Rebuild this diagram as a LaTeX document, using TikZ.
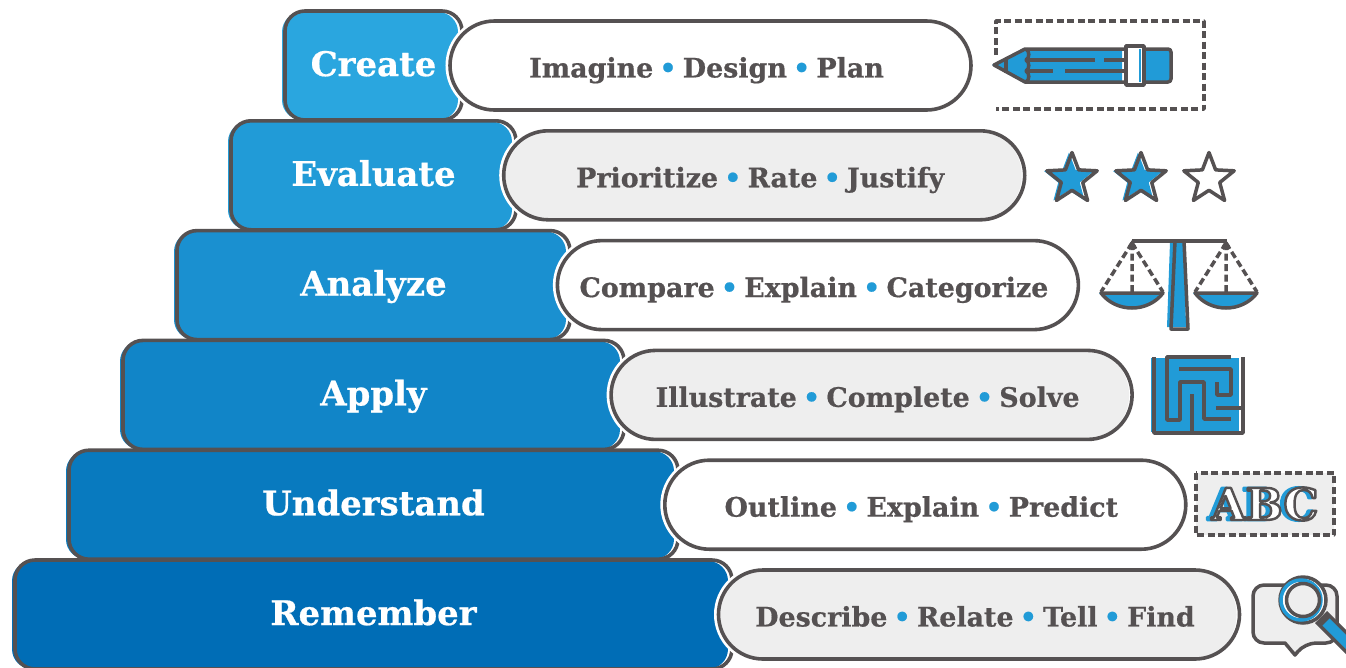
\documentclass[tikz,border=0pt]{standalone}
\usepackage{fontspec}
\usetikzlibrary{shapes.misc,shapes.geometric}
\setmainfont{DejaVu Serif}[BoldFeatures={FakeBold=0.6}]
\newfontfamily\abcfont{DejaVu Serif}
\definecolor{linegray}{HTML}{555152}
\definecolor{paleg}{HTML}{EEEEEE}
\definecolor{iconblue}{HTML}{219BD7}
\definecolor{col0}{HTML}{2AA6DF}
\definecolor{col1}{HTML}{219BD7}
\definecolor{col2}{HTML}{1A90D0}
\definecolor{col3}{HTML}{1185C8}
\definecolor{col4}{HTML}{087ABF}
\definecolor{col5}{HTML}{006DB6}
\def\px{0.02cm}
\newcommand{\dotsep}{\hspace{0.23em}\textcolor{iconblue}{•}\hspace{0.23em}}
\newcommand{\strokedtext}[4]{\special{pdf:code q 1 j 2 Tr #2 w #1 RG #3 rg}#4\special{pdf:code Q}}
\tikzset{
  blockbox/.style={rectangle,draw=linegray,line width=3.6*\px,rounded corners=20*\px,
    outer sep=0pt,inner sep=0pt,text=white,font=\fontsize{19.3}{24}\selectfont\bfseries,
    text height=19pt,text depth=7pt},
  pillbox/.style={rounded rectangle,draw=linegray,line width=3.6*\px,fill=white,
    outer sep=0pt,inner sep=0pt,text=linegray,font=\fontsize{15.3}{18}\selectfont\bfseries,
    text height=18pt,text depth=4.4pt,
    preaction={draw=white,line width=9*\px}},
  icon/.style={draw=linegray,line width=3.5*\px,line join=round},
  dashline/.style={icon,dash pattern=on 7*\px off 3.5*\px},
  starbox/.style={star,star points=5,star point ratio=2.35,minimum size=53*\px,
    inner sep=0pt,outer sep=0pt,line join=round}
}
\begin{document}
\begin{tikzpicture}[x=0.02cm,y=-0.02cm]
\useasboundingbox (0,0) rectangle (1346,667);
% steps and their pills
\foreach \i/\lab/\pcol/\txt in {
    0/Create/white/{Imagine\dotsep Design\dotsep Plan},
    1/Evaluate/paleg/{Prioritize\dotsep Rate\dotsep Justify},
    2/Analyze/white/{Compare\dotsep Explain\dotsep Categorize},
    3/Apply/paleg/{Illustrate\dotsep Complete\dotsep Solve},
    4/Understand/white/{Outline\dotsep Explain\dotsep Predict},
    5/Remember/paleg/{Describe\dotsep Relate\dotsep Tell\dotsep Find}} {
  \pgfmathsetmacro\ytop{11+109.8*\i}
  \pgfmathsetmacro\xl{285-54*\i}
  \pgfmathsetmacro\xr{462+54*\i}
  \pgfmathsetmacro\pl{450+53.7*\i}
  \pgfmathsetmacro\pr{971+53.7*\i}
  \fill[col\i,rounded corners=20*\px] (\xl-3,\ytop+1) rectangle (\xr-4,\ytop+109);
  \node[blockbox,minimum width=(\xr-\xl)*\px,minimum height=109*\px]
    (block\i) at ({(\xl+\xr)/2},\ytop+54.5) {\lab};
  \node[pillbox,minimum width=(\pr-\pl)*\px,minimum height=89*\px,
    path picture={\fill[\pcol,rounded corners=44*\px]
      ([xshift=-3*\px]path picture bounding box.south west) rectangle
      ([xshift=-3*\px]path picture bounding box.north east);}]
    (pill\i) at ({(\pl+\pr)/2},\ytop+54.5) {\hspace*{-0.16cm}\txt};
}
% pencil
\draw[dashline] (996,55) -- (996,21) -- (1204,21) -- (1204,109) -- (996,109);
\fill[iconblue] (992,65) -- (1024,48) -- (1122,48) -- (1122,83) -- (1024,83) -- cycle;
\fill[iconblue] (1144,50) rectangle (1170,81);
\draw[icon,fill=white] (1126,46) rectangle (1144,85);
\fill[iconblue] (1139,49) rectangle (1141,82);
\draw[icon,rounded corners=3*\px] (1144,49) -- (1171,49) -- (1171,82) -- (1144,82);
\draw[icon] (1126,49) -- (1025,49) -- (994,65) -- (1025,82) -- (1126,82);
\draw[icon] (1006,58) -- (1006,73);
\draw[icon] (1026,49) to[bend left=60] (1026,60) to[bend left=60] (1026,71) to[bend left=60] (1026,82);
\draw[icon] (1028,60) -- (1095,60) (1104,60) -- (1126,60);
\draw[icon] (1028,71) -- (1053,71) (1065,71) -- (1126,71);
% stars
\foreach \n/\cx in {1/1072,2/1141} {
  \node[starbox,fill=iconblue] (starfill\n) at (\cx-3,179) {};
  \node[starbox,draw=linegray,line width=3.5*\px] (star\n) at (\cx,179) {};
}
\node[starbox,draw=linegray,line width=3.5*\px] (star3) at (1209,179) {};
% scales
\fill[iconblue] (1170,242) -- (1184,242) -- (1186,327) -- (1167,327) -- cycle;
\draw[icon] (1132,241) -- (1227,241);
\draw[icon] (1175,241) -- (1171,329) -- (1188,329) -- (1184,241);
\foreach \cx in {1132,1226} {
  \fill[iconblue] (\cx-33,293) .. controls (\cx-18,312) and (\cx+14,312) .. (\cx+29,293) -- cycle;
  \draw[dashline] (\cx,243) -- (\cx-31,292) (\cx,243) -- (\cx,292) (\cx,243) -- (\cx+31,292);
  \draw[icon] (\cx-31,293) -- (\cx+31,293) .. controls (\cx+16,313) and (\cx-16,313) .. (\cx-31,293) -- cycle;
  \fill[linegray] (\cx-4,246) -- (\cx+4,246) -- (\cx,240) -- cycle;
}
% maze
\fill[iconblue] (1151,358) rectangle (1239,432);
\draw[icon] (1154,357) -- (1154,433) -- (1243,433) -- (1243,357);
\draw[icon] (1231,357) -- (1167,357) -- (1167,420) -- (1180,420) -- (1180,382) -- (1204,382) -- (1204,419) -- (1231,419);
\draw[icon] (1179,369) -- (1231,369) -- (1231,395) -- (1217,395) -- (1217,382);
\draw[icon] (1216,408) -- (1243,408);
\draw[icon] (1192,394) -- (1192,433);
% letters
\draw[dashline,fill=paleg] (1196,473) rectangle (1334,535);
\node[inner sep=0pt,font=\fontsize{25}{26}\abcfont\bfseries,text=white] (letters) at (1265,504)
  {\rlap{\hspace{-0.08cm}\strokedtext{0.129 0.608 0.843}{1.6}{0.129 0.608 0.843}{ABC}}\strokedtext{0.333 0.318 0.322}{1.4}{1 1 1}{ABC}};
% bubble and lens
\draw[icon,fill=paleg,rounded corners=11*\px] (1285,643) -- (1253,643) -- (1253,585) -- (1337,585) -- (1337,643) -- (1305,643) [sharp corners] -- (1295,655) -- cycle;
\draw[line width=17*\px,linegray] (1321,617) -- (1356,652);
\draw[line width=10*\px,iconblue] (1326,622) -- (1356,652);
\draw[icon,fill=white] (1303,600) circle (23);
\draw[iconblue,line width=3.5*\px] (1301,600) circle (20);
\draw[icon,fill=paleg] (1303,600) circle (16.5);
\end{tikzpicture}
\end{document}
